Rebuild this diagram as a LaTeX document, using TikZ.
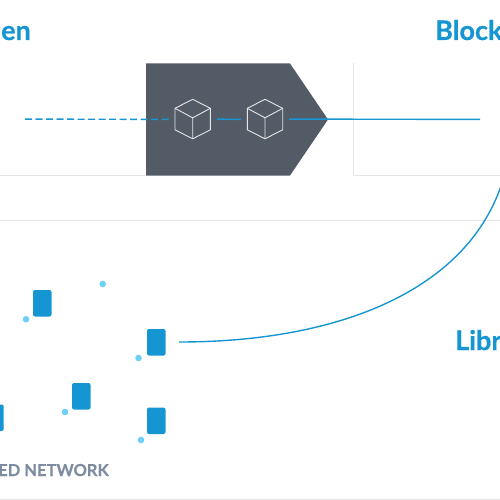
\documentclass[tikz,border=0pt]{standalone}
\usepackage{fontspec}
\setmainfont{Lato}
\newfontfamily\heavyfont[BoldFont={Lato Bold},BoldFeatures={FakeBold=0.5}]{Lato}
\definecolor{brand}{HTML}{1596D2}
\definecolor{dotblue}{HTML}{6DD0F7}
\definecolor{slatebox}{HTML}{535B66}
\definecolor{rule}{HTML}{E6E6E6}
\definecolor{netgrey}{HTML}{7D8CA1}
\tikzset{
  rulelines/.style={draw=rule,line width=0.9pt},
  linkline/.style={draw=brand,line width=1.4pt},
  device/.style={fill=brand,draw=none,rounded corners=2pt},
  peer/.style={circle,fill=dotblue,draw=none,minimum size=6.6pt,inner sep=0pt},
  cubeline/.style={draw=white!85!slatebox,line width=0.9pt,line join=round},
  heading/.style={font=\heavyfont\bfseries\fontsize{27}{27}\selectfont,text=brand,inner sep=0pt,anchor=base west},
  netlabel/.style={font=\heavyfont\bfseries\fontsize{16.5}{16.5}\selectfont,text=netgrey,inner sep=0pt,anchor=base east}
}
\newcommand{\drawcube}[2]{%
  \begin{scope}[shift={(#1,#2)}]
    \draw[cubeline] (0,-19.5) -- (17.7,-10.5) -- (17.7,11) -- (0,20) -- (-17.7,11) -- (-17.7,-10.5) -- cycle;
    \draw[cubeline] (-17.7,-10.5) -- (0,-1) -- (17.7,-10.5) (0,-1) -- (0,20);
  \end{scope}}
\begin{document}
\begin{tikzpicture}[x=1pt,y=-1pt]
\useasboundingbox (0,0) rectangle (500,500);
\clip (0,0) rectangle (500,500);
\draw[rulelines] (0,175.5) -- (146,175.5) (353,175.5) -- (500,175.5);
\draw[rulelines] (353,63.5) -- (353,175.5);
\draw[rulelines] (0,220.5) -- (500,220.5);
\draw[rulelines] (0,499.5) -- (500,499.5);
\fill[slatebox] (146,63.5) -- (290,63.5) -- (328,119.5) -- (290,175.5) -- (146,175.5) -- cycle;
\drawcube{192.7}{118.8}
\drawcube{265}{118.8}
\node[heading] (tokentext) at (1,40) {en};
\node[heading] (blocktext) at (435,40) {Block};
\node[heading] (librarytext) at (455,350) {Libr};
\node[netlabel] (nettext) at (109,476) {ED NETWORK};
\path[device] (33,290) rectangle (51.5,316.5);
\path[device] (147,329) rectangle (165.5,355.5);
\path[device] (72,383) rectangle (90.5,409.5);
\path[device] (147,407.5) rectangle (165.5,434);
\path[device] (-15,404.5) rectangle (3.7,431);
\node[peer] (pa) at (102.7,284) {};
\node[peer] (pb) at (26,319.3) {};
\node[peer] (pc) at (138.5,358) {};
\node[peer] (pd) at (65,412) {};
\node[peer] (pe) at (141,440) {};
\coordinate (curvestart) at (179,342);
\coordinate (curveend) at (501,186);
\draw[linkline] (curvestart) .. controls (340,342) and (465,290) .. (curveend);
\coordinate (ca) at (25,119.1);
\coordinate (cb) at (170,119.4);
\coordinate (cc) at (217,119.1);
\coordinate (cd) at (241,119.4);
\coordinate (ce) at (289,119.1);
\coordinate (cf) at (480,119.4);
\draw[linkline,dash pattern=on 7pt off 3.5pt] (ca) -- (cb);
\draw[linkline] (cc) -- (cd);
\draw[linkline] (ce) -- (cf);
\end{tikzpicture}
\end{document}
